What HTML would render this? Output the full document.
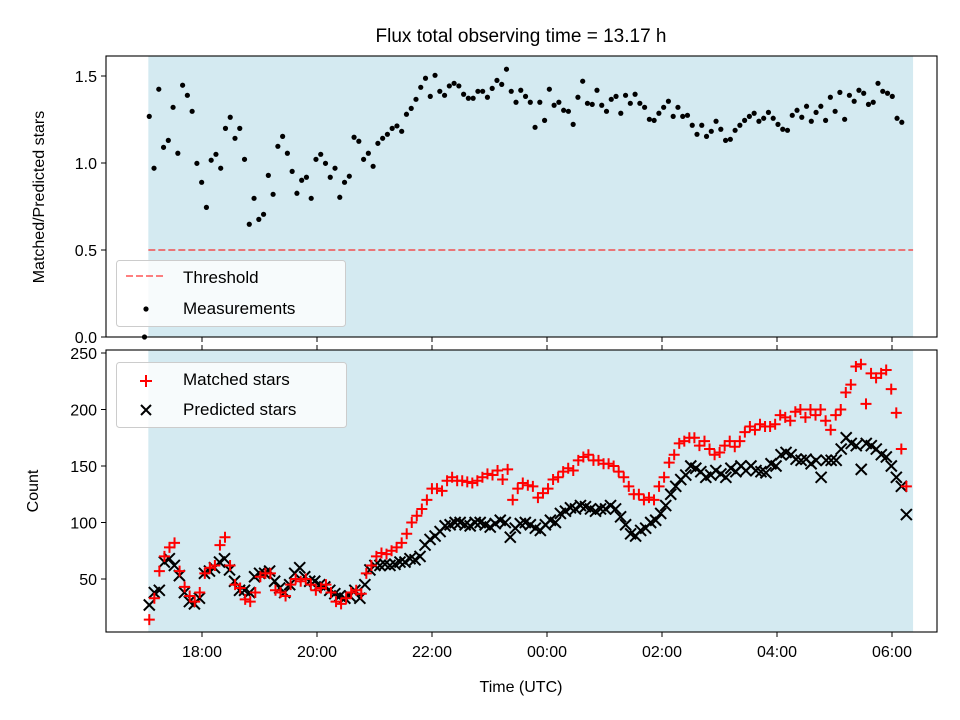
<!DOCTYPE html>
<html><head><meta charset="utf-8"><style>
html,body{margin:0;padding:0;background:#fff;}
svg{display:block;font-family:"Liberation Sans","DejaVu Sans",sans-serif;}
</style></head><body>
<svg id="chart" width="960" height="720" viewBox="0 0 960 720" xmlns="http://www.w3.org/2000/svg">
<rect width="960" height="720" fill="#fff"/>
<text x="521" y="42" font-size="19" text-anchor="middle" fill="#000">Flux total observing time = 13.17 h</text>
<g id="topPanel"></g>
<g id="bottomPanel"></g>
</svg>
<script>
// ---- data ----
const ratioStartMin = 1020;   // 17:00
const ratioStepMin = 4.97;
const ratios = [0,1.268,0.970,1.424,1.090,1.130,1.320,1.056,1.447,1.389,1.297,0.998,0.889,0.745,1.016,1.050,0.970,1.199,1.263,1.142,1.199,1.021,0.648,0.797,0.676,0.705,0.929,0.820,1.096,1.153,1.056,0.952,0.826,0.901,0.918,0.797,1.021,1.050,0.998,0.918,0.970,0.803,0.889,0.924,1.148,1.125,1.021,1.056,0.981,1.113,1.142,
1.165,1.199,1.213,1.182,1.280,1.314,1.366,1.435,1.487,1.383,1.504,1.412,1.389,1.443,1.458,1.443,1.395,1.372,1.372,1.412,1.412,1.378,1.429,1.475,1.452,1.539,1.412,1.349,1.418,1.383,1.349,1.205,1.349,1.245,1.424,1.332,1.349,1.303,1.297,1.222,1.378,1.470,1.343,1.337,1.418,1.332,1.297,1.366,1.383,1.286,1.389,1.343,1.395,1.343,1.320,1.251,1.245,1.286,
1.320,1.355,1.268,1.320,1.268,1.274,1.217,1.165,1.217,1.153,1.182,1.240,1.194,1.130,1.136,1.188,1.217,1.245,1.268,1.286,1.240,1.257,1.291,1.257,1.222,1.194,1.188,1.274,1.303,1.263,1.326,1.240,1.291,1.326,1.245,1.378,1.297,1.406,1.251,1.389,1.355,1.418,1.401,1.337,1.349,1.458,1.412,1.401,1.383,1.257,1.234];
const threshold = 0.5;
const countStartMin = 1025;   // 17:05
const countEndMin = 1815;     // 06:15
const predicted = [27,38,40,65,68,62,53,38,30,28,33,55,57,60,65,68,58,48,40,40,38,52,55,55,57,48,42,38,45,55,60,52,48,48,45,43,40,37,35,33,35,40,33,45,58,62,62,63,62,63,65,65,68,67,70,80,85,88,92,97,98,100,100,98,97,100,100,98,96,99,102,100,87,95,99,100,98,95,93,98,102,100,108,110,113,112,115,114,112,110,112,112,115,112,105,98,90,88,93,95,100,102,108,115,125,132,138,142,150,148,145,140,142,146,143,140,148,145,150,146,150,146,145,144,152,150,160,162,160,156,155,156,152,155,140,155,155,155,165,175,170,168,147,170,168,165,160,158,150,140,132,107];
const matched = [14,33,57,70,78,82,57,43,35,30,38,55,60,62,80,87,62,45,42,32,30,38,52,55,55,40,38,35,45,50,48,50,45,40,42,45,38,30,28,33,38,40,37,55,62,70,73,72,75,78,82,90,100,106,112,120,130,130,128,137,140,137,137,136,135,137,140,143,142,146,138,147,120,130,135,133,132,122,126,130,138,140,145,148,146,155,158,160,155,155,152,152,150,145,140,132,125,125,120,122,120,132,140,153,160,170,172,175,175,168,172,165,160,162,168,172,167,172,180,185,182,187,185,185,187,195,193,190,198,200,193,200,195,200,190,182,195,200,215,222,238,240,205,232,228,232,235,218,197,165,132];
const topTicks = [0.0,0.5,1.0,1.5];
const topTickLabels = ["0.0","0.5","1.0","1.5"];
const botTicks = [50,100,150,200,250];
const xTickMin = [1080,1200,1320,1440,1560,1680,1800];
const xTickLabels = ["18:00","20:00","22:00","00:00","02:00","04:00","06:00"];
const shadeStartMin = 1024, shadeEndMin = 1822;

// ---- scales ----
const L = 106, R = 937;
const TT = 56, TB = 337, BT = 350, BB = 632;
const xS = m => 202 + (m - 1080) * 57.5 / 60;
const yTop = v => 337 - v * 174;
const yBot = v => 579 - (v - 50) * 1.13;
const NS = "http://www.w3.org/2000/svg";
function mk(parent, tag, attrs){const e=document.createElementNS(NS,tag);for(const k in attrs)e.setAttribute(k,attrs[k]);parent.appendChild(e);return e;}

const gTop = document.getElementById('topPanel');
const gBot = document.getElementById('bottomPanel');
const shade = '#d4eaf1';

// top panel
let r = mk(gTop,'rect',{x:xS(shadeStartMin),y:TT,width:xS(shadeEndMin)-xS(shadeStartMin),height:TB-TT,fill:shade});


let th = mk(gTop,'line',{x1:xS(shadeStartMin),x2:xS(shadeEndMin),y1:yTop(threshold),y2:yTop(threshold),stroke:'#ff0000','stroke-opacity':0.5,'stroke-width':2,'stroke-dasharray':'7,3'});


ratios.forEach((v,i)=>{
  const c = mk(gTop,'circle',{cx:xS(ratioStartMin+i*ratioStepMin),cy:yTop(v),r:2.6,fill:'#000'});
  
  
});
topTicks.forEach((v,i)=>{
  const y=yTop(v);
  mk(gTop,'line',{x1:L-5,x2:L,y1:y,y2:y,stroke:'#000','stroke-width':1});
  const t=mk(gTop,'text',{x:L-9,y:y+6,'font-size':16,'text-anchor':'end'});
  t.textContent=topTickLabels[i];
  
  
});
xTickMin.forEach(m=>{mk(gTop,'line',{x1:xS(m),x2:xS(m),y1:TB,y2:TB+5,stroke:'#000','stroke-width':1});});
let tf = mk(gTop,'rect',{x:L,y:TT,width:R-L,height:TB-TT,fill:'none',stroke:'#000','stroke-width':1.1});


let yl = mk(gTop,'text',{x:0,y:0,'font-size':16,'text-anchor':'middle',transform:'translate(44,197) rotate(-90)'});
yl.textContent='Matched/Predicted stars';


// top legend
const lg = mk(gTop,'g',{});


mk(lg,'rect',{x:116.5,y:260.5,width:229,height:66,rx:3,fill:'#fff','fill-opacity':0.8,stroke:'#ccc'});
mk(lg,'line',{x1:126,x2:166,y1:276,y2:276,stroke:'#ff0000','stroke-opacity':0.5,'stroke-width':2,'stroke-dasharray':'7,3'});
mk(lg,'circle',{cx:146,cy:309,r:2.6,fill:'#000'});
let t1=mk(lg,'text',{x:183,y:283,'font-size':17});t1.textContent='Threshold';


let t2=mk(lg,'text',{x:183,y:314,'font-size':17});t2.textContent='Measurements';



// bottom panel
r = mk(gBot,'rect',{x:xS(shadeStartMin),y:BT,width:xS(shadeEndMin)-xS(shadeStartMin),height:BB-BT,fill:shade});


const pStep=(countEndMin-countStartMin)/(predicted.length-1);
const mStep=(countEndMin-countStartMin)/(matched.length-1);
predicted.forEach((v,i)=>{
  const x=xS(countStartMin+i*pStep), y=yBot(v), s=5.5;
  const p=mk(gBot,'path',{d:`M${x-s},${y-s}L${x+s},${y+s}M${x-s},${y+s}L${x+s},${y-s}`,stroke:'#000','stroke-width':2});
  
  
});
matched.forEach((v,i)=>{
  const x=xS(countStartMin+i*mStep), y=yBot(v), s=5.5;
  const p=mk(gBot,'path',{d:`M${x-s},${y}L${x+s},${y}M${x},${y-s}L${x},${y+s}`,stroke:'#ff0000','stroke-width':2});
  
  
});
botTicks.forEach(v=>{
  const y=yBot(v);
  mk(gBot,'line',{x1:L-5,x2:L,y1:y,y2:y,stroke:'#000','stroke-width':1});
  const t=mk(gBot,'text',{x:L-9,y:y+6,'font-size':16,'text-anchor':'end'});
  t.textContent=String(v);
  
  
});
xTickMin.forEach((m,i)=>{
  const x=xS(m);
  mk(gBot,'line',{x1:x,x2:x,y1:BB,y2:BB+5,stroke:'#000','stroke-width':1});
  mk(gBot,'line',{x1:x,x2:x,y1:BT,y2:BT-5,stroke:'#000','stroke-width':1});
  const t=mk(gBot,'text',{x:x,y:BB+25,'font-size':16,'text-anchor':'middle'});
  t.textContent=xTickLabels[i];
  
  
});
let bf = mk(gBot,'rect',{x:L,y:BT,width:R-L,height:BB-BT,fill:'none',stroke:'#000','stroke-width':1.1});


let cl = mk(gBot,'text',{x:0,y:0,'font-size':16,'text-anchor':'middle',transform:'translate(38,491) rotate(-90)'});
cl.textContent='Count';


let xl = mk(gBot,'text',{x:521,y:692,'font-size':16,'text-anchor':'middle'});
xl.textContent='Time (UTC)';


const lg2 = mk(gBot,'g',{});


mk(lg2,'rect',{x:116.5,y:362.5,width:230,height:65,rx:3,fill:'#fff','fill-opacity':0.8,stroke:'#ccc'});
mk(lg2,'path',{d:'M140,381L152,381M146,375L146,387',stroke:'#ff0000','stroke-width':2});
mk(lg2,'path',{d:'M141,405L151,415M141,415L151,405',stroke:'#000','stroke-width':2});
let t3=mk(lg2,'text',{x:183,y:385,'font-size':17});t3.textContent='Matched stars';


let t4=mk(lg2,'text',{x:183,y:415,'font-size':17});t4.textContent='Predicted stars';


</script>
</body></html>
